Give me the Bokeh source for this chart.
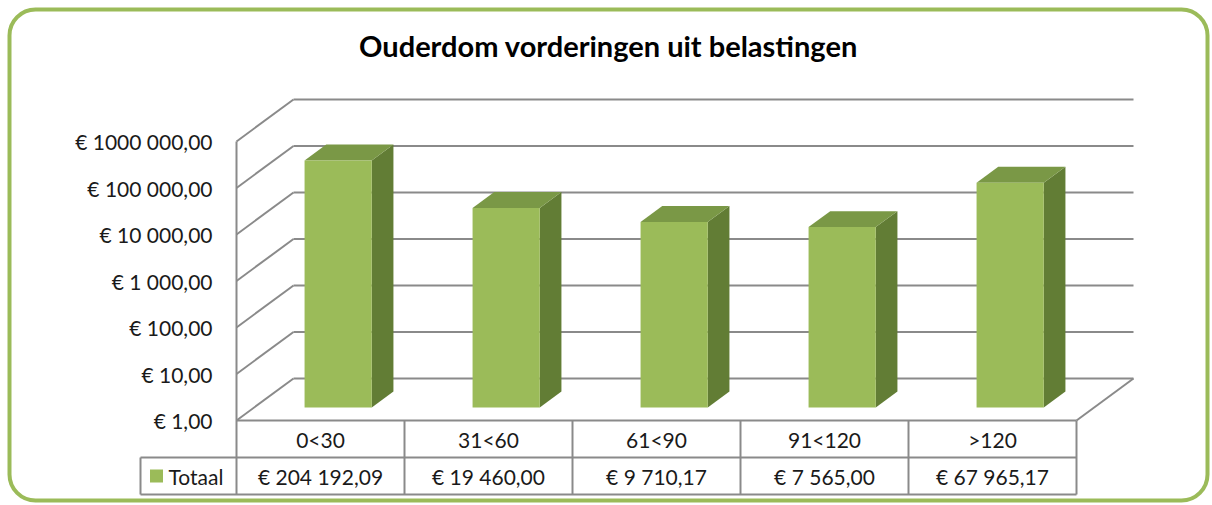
from bokeh.plotting import figure
from bokeh.models import Range1d, BoxAnnotation
from bokeh.embed import file_html
from bokeh.resources import INLINE
from bokeh.core.properties import value

# ---------------- data ----------------
title_text = "Ouderdom vorderingen uit belastingen"
categories = ["0<30", "31<60", "61<90", "91<120", ">120"]
totals = [204192.09, 19460.00, 9710.17, 7565.00, 67965.17]
series_name = "Totaal"
tick_values = [1, 10, 100, 1000, 10000, 100000, 1000000]
tick_labels = ["€ 1,00", "€ 10,00", "€ 100,00", "€ 1 000,00",
               "€ 10 000,00", "€ 100 000,00", "€ 1000 000,00"]

# ---------------- geometry / style ----------------
W, H = 1212, 505
PX_PER_CAT = 168.0        # width of one category column (px)
PX_PER_DECADE = 46.5      # height of one decade (px)
ORIGIN_X = 236.0          # px of front axis
ORIGIN_Y = 420.0          # px (from top) of value 1 on front plane
DEPTH_DX = 57.0 / PX_PER_CAT       # depth shift in category units
DEPTH_DLOG = 42.0 / PX_PER_DECADE  # depth shift in decades
BAR_W = 0.4
D_FRONT, D_BACK = 0.31, 0.69
ROW_H = 37.0

FONT = value("Lato")
FS = "21px"
GRID = "#8a8a8a"
FRONT_C = "#9bbb59"
TOP_C = "#7a9846"
SIDE_C = "#627d35"
BORDER_C = "#9bbb59"
TXT = "#1a1a1a"


def X(u, d=0.0):
    return u + d * DEPTH_DX


def Y(v, d=0.0):
    return v * 10 ** (d * DEPTH_DLOG)


def px_x(fx):
    return (fx - ORIGIN_X) / PX_PER_CAT


def px_y(fy):
    return 10 ** ((ORIGIN_Y - fy) / PX_PER_DECADE)


def eur(v):
    s = f"{v:,.2f}".replace(",", " ").replace(".", ",")
    return "€ " + s


n = len(categories)

p = figure(width=W, height=H, output_backend="svg", toolbar_location=None,
           x_range=Range1d(px_x(0), px_x(W)), y_range=Range1d(px_y(H), px_y(0)),
           y_axis_type="log",
           x_axis_location=None, y_axis_location=None, min_border=0)
p.grid.visible = False
p.outline_line_color = None
p.background_fill_color = "white"
p.border_fill_color = "white"

# ---------------- walls & floor ----------------
xs, ys = [], []
for t in tick_values:
    # back wall gridline
    xs.append([X(0, 1), X(n, 1)]); ys.append([Y(t, 1), Y(t, 1)])
    # side wall diagonal
    xs.append([X(0, 0), X(0, 1)]); ys.append([Y(t, 0), Y(t, 1)])
# floor right edge
xs.append([X(n, 0), X(n, 1)]); ys.append([Y(1, 0), Y(1, 1)])
p.multi_line(xs, ys, line_color=GRID, line_width=2)

# ---------------- bars ----------------
fl, fr, fb, ft = [], [], [], []
top_x, top_y, side_x, side_y = [], [], [], []
for i, v in enumerate(totals):
    u = i + 0.5
    l, r = u - BAR_W / 2, u + BAR_W / 2
    fl.append(X(l, D_FRONT)); fr.append(X(r, D_FRONT))
    fb.append(Y(1, D_FRONT)); ft.append(Y(v, D_FRONT))
    top_x.append([X(l, D_FRONT), X(r, D_FRONT), X(r, D_BACK), X(l, D_BACK)])
    top_y.append([Y(v, D_FRONT), Y(v, D_FRONT), Y(v, D_BACK), Y(v, D_BACK)])
    side_x.append([X(r, D_FRONT), X(r, D_FRONT), X(r, D_BACK), X(r, D_BACK)])
    side_y.append([Y(1, D_FRONT), Y(v, D_FRONT), Y(v, D_BACK), Y(1, D_BACK)])
p.patches(side_x, side_y, fill_color=SIDE_C, line_color=None)
p.patches(top_x, top_y, fill_color=TOP_C, line_color=None)
p.quad(left=fl, right=fr, bottom=fb, top=ft, fill_color=FRONT_C, line_color=None)

# ---------------- y tick labels ----------------
p.text(x=[X(0)] * len(tick_values), y=tick_values, text=tick_labels,
       x_offset=-24, text_align="right", text_baseline="middle",
       text_font=FONT, text_font_size=FS, text_color=TXT)

# ---------------- data table ----------------
row1 = px_y(ORIGIN_Y + ROW_H)
row2 = px_y(ORIGIN_Y + 2 * ROW_H)
leg_left = px_x(140)
txs, tys = [], []
txs.append([X(0), X(n)]); tys.append([Y(1), Y(1)])
txs.append([leg_left, X(n)]); tys.append([row1, row1])
txs.append([leg_left, X(n)]); tys.append([row2, row2])
txs.append([X(0), X(0)]); tys.append([max(tick_values), row2])
for k in range(1, n + 1):
    txs.append([X(k), X(k)]); tys.append([Y(1), row2])
txs.append([leg_left, leg_left]); tys.append([row1, row2])
p.multi_line(txs, tys, line_color=GRID, line_width=2)

centers = [i + 0.5 for i in range(n)]
p.text(x=centers, y=[px_y(ORIGIN_Y + ROW_H / 2)] * n, text=categories,
       text_align="center", text_baseline="middle",
       text_font=FONT, text_font_size=FS, text_color=TXT)
p.text(x=centers, y=[px_y(ORIGIN_Y + 1.5 * ROW_H)] * n, text=[eur(v) for v in totals],
       text_align="center", text_baseline="middle",
       text_font=FONT, text_font_size=FS, text_color=TXT)
p.scatter(x=[px_x(156)], y=[px_y(ORIGIN_Y + 1.5 * ROW_H)], marker="square", size=13,
          fill_color=FRONT_C, line_color=None)
p.text(x=[px_x(168)], y=[px_y(ORIGIN_Y + 1.5 * ROW_H)], text=[series_name],
       text_align="left", text_baseline="middle",
       text_font=FONT, text_font_size=FS, text_color=TXT)

# ---------------- title ----------------
p.text(x=[px_x(608)], y=[px_y(45)], text=[title_text],
       text_align="center", text_baseline="middle",
       text_font=FONT, text_font_style="bold", text_font_size="29px", text_color="#000000")

# ---------------- rounded chart border ----------------
p.add_layout(BoxAnnotation(left=px_x(9), right=px_x(1207), top=px_y(9), bottom=px_y(500),
                           border_radius=26, fill_alpha=0, line_alpha=1.0,
                           line_color=BORDER_C, line_width=4))

open("out.html", "w").write(file_html(p, INLINE))
